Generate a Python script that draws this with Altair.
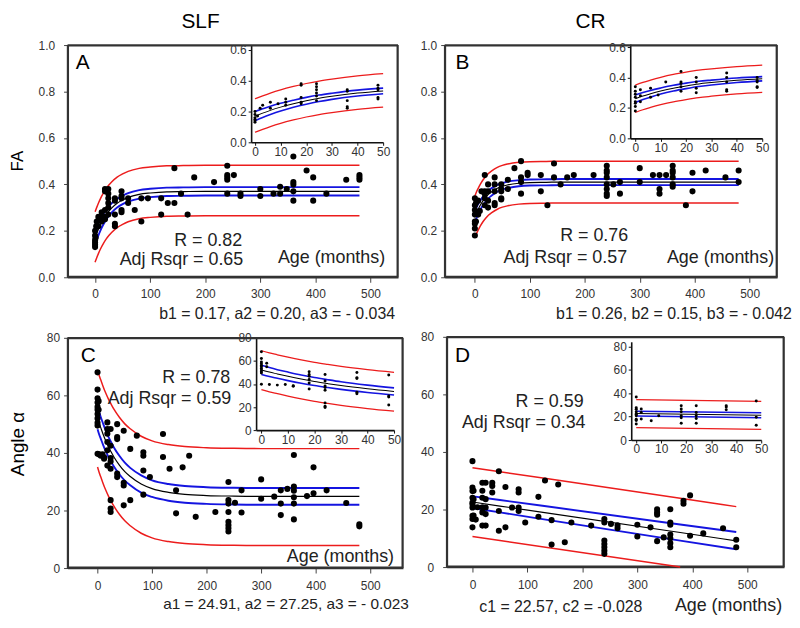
import altair as alt
import pandas as pd

FONT = "Liberation Sans"
W, H = 790, 612

# ---------------- data ----------------
CURVE_AGE = [0, 3, 6, 10, 15, 20, 25, 30, 40, 50, 60, 80, 100, 130, 160, 200, 250, 300, 400, 480]

# Panel A : SLF, FA
A_POINTS = [
    [0, 0.13], [0, 0.14], [0, 0.16], [0, 0.18], [0, 0.20], [0, 0.15],
    [1, 0.17], [2, 0.22], [3, 0.24], [6, 0.26], [6, 0.22], [9, 0.25],
    [12, 0.26], [12, 0.28], [12, 0.24],
    [18, 0.38], [18, 0.29], [18, 0.26], [18, 0.25], [18, 0.37],
    [24, 0.36], [24, 0.30], [24, 0.34], [24, 0.27], [24, 0.38], [24, 0.32],
    [36, 0.33], [36, 0.27], [36, 0.23], [36, 0.22], [36, 0.34],
    [48, 0.37], [48, 0.34], [48, 0.29], [48, 0.35], [48, 0.28],
    [60, 0.34], [60, 0.32], [72, 0.29], [84, 0.34], [84, 0.24], [96, 0.34],
    [120, 0.34], [120, 0.27], [132, 0.32], [144, 0.47], [144, 0.32],
    [156, 0.36], [168, 0.27], [180, 0.43], [216, 0.41],
    [240, 0.48], [240, 0.44], [240, 0.43], [240, 0.42], [240, 0.36],
    [252, 0.44], [264, 0.36], [264, 0.35], [300, 0.38], [300, 0.35],
    [324, 0.36], [336, 0.39], [336, 0.36], [348, 0.38],
    [360, 0.52], [360, 0.41], [360, 0.40], [360, 0.37], [360, 0.33],
    [384, 0.46], [396, 0.43], [396, 0.33], [420, 0.36], [456, 0.42],
    [480, 0.44], [480, 0.43], [480, 0.42],
]
A_FIT = [0.170, 0.189, 0.207, 0.228, 0.250, 0.269, 0.285, 0.298, 0.319, 0.333, 0.344, 0.357, 0.363, 0.368, 0.369, 0.370, 0.370, 0.370, 0.370, 0.370]
A_CI_HI = [0.200, 0.217, 0.234, 0.253, 0.273, 0.291, 0.306, 0.318, 0.338, 0.351, 0.362, 0.375, 0.381, 0.386, 0.387, 0.388, 0.388, 0.388, 0.388, 0.388]
A_CI_LO = [0.140, 0.161, 0.180, 0.203, 0.227, 0.247, 0.264, 0.278, 0.300, 0.315, 0.326, 0.339, 0.345, 0.350, 0.351, 0.352, 0.352, 0.352, 0.352, 0.352]
A_PI_HI = [0.282, 0.301, 0.319, 0.340, 0.362, 0.381, 0.397, 0.410, 0.431, 0.445, 0.456, 0.469, 0.475, 0.480, 0.481, 0.482, 0.482, 0.482, 0.482, 0.482]
A_PI_LO = [0.065, 0.084, 0.102, 0.123, 0.145, 0.164, 0.180, 0.193, 0.214, 0.228, 0.239, 0.252, 0.258, 0.263, 0.264, 0.265, 0.265, 0.265, 0.265, 0.265]

# Panel B : CR, FA
B_POINTS = [
    [0, 0.34], [0, 0.31], [0, 0.27], [0, 0.24], [0, 0.21], [0, 0.18], [0, 0.29], [0, 0.23],
    [2, 0.28], [2, 0.24], [2, 0.32], [6, 0.27], [6, 0.33], [9, 0.285], [12, 0.37],
    [18, 0.44], [18, 0.37], [18, 0.34], [18, 0.31], [18, 0.36],
    [24, 0.40], [24, 0.37], [24, 0.30], [24, 0.33],
    [36, 0.40], [36, 0.37], [36, 0.31], [36, 0.43], [36, 0.32],
    [48, 0.37], [48, 0.335], [48, 0.40], [48, 0.38], [48, 0.34],
    [60, 0.42], [60, 0.38], [72, 0.47],
    [84, 0.50], [84, 0.43], [84, 0.41], [84, 0.36], [96, 0.44], [96, 0.45],
    [120, 0.44], [120, 0.37], [132, 0.31], [144, 0.49], [144, 0.43],
    [156, 0.40], [168, 0.43], [180, 0.44], [216, 0.44],
    [240, 0.48], [240, 0.46], [240, 0.45], [240, 0.43], [240, 0.40], [240, 0.38], [240, 0.36], [240, 0.35],
    [252, 0.40], [264, 0.41], [264, 0.36], [300, 0.47], [300, 0.41], [324, 0.44],
    [336, 0.44], [336, 0.38], [336, 0.36], [348, 0.44],
    [360, 0.48], [360, 0.46], [360, 0.45], [360, 0.43], [360, 0.40], [360, 0.39],
    [384, 0.31], [396, 0.45], [396, 0.37], [420, 0.46], [456, 0.43], [480, 0.46], [480, 0.41],
]
B_FIT = [0.260, 0.278, 0.293, 0.311, 0.330, 0.345, 0.358, 0.367, 0.382, 0.392, 0.398, 0.405, 0.408, 0.409, 0.410, 0.410, 0.410, 0.410, 0.410, 0.410]
B_CI_HI = [0.285, 0.301, 0.315, 0.331, 0.349, 0.363, 0.375, 0.383, 0.397, 0.406, 0.412, 0.418, 0.421, 0.422, 0.423, 0.423, 0.423, 0.423, 0.423, 0.423]
B_CI_LO = [0.235, 0.255, 0.271, 0.291, 0.311, 0.327, 0.341, 0.351, 0.367, 0.378, 0.384, 0.392, 0.395, 0.396, 0.397, 0.397, 0.397, 0.397, 0.397, 0.397]
B_PI_HI = [0.350, 0.368, 0.383, 0.401, 0.420, 0.435, 0.448, 0.457, 0.472, 0.482, 0.488, 0.495, 0.498, 0.499, 0.500, 0.500, 0.500, 0.500, 0.500, 0.500]
B_PI_LO = [0.170, 0.188, 0.203, 0.221, 0.240, 0.255, 0.268, 0.277, 0.292, 0.302, 0.308, 0.315, 0.318, 0.319, 0.320, 0.320, 0.320, 0.320, 0.320, 0.320]

# Panel C : SLF, angle
C_POINTS = [
    [0, 68], [0, 62], [0, 59], [0, 57.5], [0, 56], [0, 55], [0, 53.5], [0, 52], [0, 50.5], [0, 49.5], [0, 39.7],
    [2, 58], [2, 55], [3, 39.5], [6, 39], [9, 39.5], [12, 38.5], [12, 38],
    [18, 50.6], [18, 48.3], [18, 46.7], [18, 43.8], [18, 40.9], [18, 35.6],
    [24, 48.3], [24, 42.5], [24, 38.2], [24, 34.5], [24, 37], [24, 23.6], [24, 20.7], [24, 19.5],
    [36, 50], [36, 45.5], [36, 44.8], [36, 31.6], [36, 32.8],
    [48, 47.7], [48, 28.7], [48, 21.8], [48, 29.6],
    [60, 41.4], [60, 23.6], [72, 46], [84, 40.2], [84, 39], [84, 33.9], [84, 25.5], [96, 31.6],
    [120, 46.6], [120, 38.6], [132, 34.5], [144, 27], [144, 19], [156, 35], [168, 39], [180, 17.8], [216, 19.5],
    [240, 29.9], [240, 23.6], [240, 22.4], [240, 19.5], [240, 16.1], [240, 14.9], [240, 13.8], [240, 12.7],
    [252, 22.7], [264, 27], [264, 19.3], [300, 30.8], [300, 24.1], [324, 24.8],
    [336, 27], [336, 22.4], [336, 18.4], [348, 27.5],
    [360, 39.3], [360, 28.3], [360, 26.9], [360, 24.6], [360, 22.4], [360, 16.9],
    [384, 25], [396, 35], [396, 26], [420, 27], [456, 22.6], [480, 15.2], [480, 14.5],
]
C_FIT = [52.2, 50.3, 48.7, 46.6, 44.2, 42.1, 40.3, 38.6, 35.8, 33.5, 31.8, 29.2, 27.6, 26.3, 25.6, 25.2, 25.0, 24.9, 24.9, 24.9]
C_CI_HI = [56.2, 54.2, 52.4, 50.3, 47.8, 45.6, 43.7, 41.9, 39.0, 36.6, 34.8, 32.2, 30.5, 29.2, 28.5, 28.1, 27.9, 27.8, 27.8, 27.8]
C_CI_LO = [48.2, 46.4, 44.9, 42.9, 40.6, 38.6, 36.9, 35.3, 32.6, 30.4, 28.8, 26.2, 24.7, 23.4, 22.7, 22.3, 22.1, 22.0, 22.0, 22.0]
C_PI_HI = [68.8, 66.9, 65.3, 63.2, 60.8, 58.7, 56.9, 55.2, 52.4, 50.1, 48.4, 45.8, 44.2, 42.9, 42.2, 41.8, 41.6, 41.5, 41.5, 41.5]
C_PI_LO = [35.1, 33.2, 31.6, 29.5, 27.1, 25.0, 23.2, 21.5, 18.7, 16.4, 14.7, 12.1, 10.5, 9.2, 8.5, 8.1, 7.9, 7.8, 7.8, 7.8]

# Panel D : CR, angle (linear fit)
D_POINTS = [
    [0, 36.8], [0, 27.6], [0, 26.4], [0, 24.1], [0, 22.4], [0, 21.8], [0, 20.7], [0, 17.8], [0, 16.7], [0, 13.8],
    [2, 26.5], [2, 23.6], [2, 17.9], [6, 16.5], [9, 20.8],
    [18, 29.3], [18, 26.5], [18, 24.1], [18, 20.8], [18, 19], [18, 14.4],
    [24, 29.3], [24, 23.6], [24, 20.7], [24, 18.4], [24, 14.4],
    [36, 29.3], [36, 28.2], [36, 25.9], [48, 33.3], [48, 19.5], [48, 12.6],
    [60, 27.8], [60, 13.8], [72, 20.7], [84, 27], [84, 25.9], [84, 20.7], [84, 19.5], [96, 15.5],
    [120, 24.4], [120, 17.5], [132, 30.1], [144, 16.3], [144, 7.8], [156, 28.7], [168, 8.6], [180, 15.5], [216, 14.4],
    [240, 16.7], [240, 15.5], [240, 9.2], [240, 8], [240, 6.9], [240, 5.7], [240, 4.6],
    [252, 15], [264, 14.5], [264, 13.5], [300, 14.7], [300, 10.6], [324, 13.8],
    [336, 20.1], [336, 19], [336, 18.2], [336, 9], [348, 10.3],
    [360, 20.1], [360, 15.5], [360, 14.7], [360, 11.3], [360, 10], [360, 8.3], [360, 6.9],
    [384, 22], [384, 23], [396, 24.9], [396, 10.9], [420, 11.7], [456, 13.5], [480, 9.5], [480, 6.9],
]
D_CURVE_AGE = [0, 50, 378, 480]
D_FIT = [22.6, 21.2, 12.0, 9.1]
D_CI_HI = [24.6, 23.3, 14.8, 12.2]
D_CI_LO = [20.5, 19.0, 9.2, 6.2]
D_PI_HI = [34.5, 33.1, 23.9, 21.0]
D_PI_LO = [10.6, 9.2, 0.0, None]

AGE_TICKS = [0, 100, 200, 300, 400, 500]
INSET_AGE_TICKS = [0, 10, 20, 30, 40, 50]
FA_TICKS = [0, 0.2, 0.4, 0.6, 0.8, 1.0]
FA_INSET_TICKS = [0, 0.2, 0.4, 0.6]
ANG_TICKS = [0, 20, 40, 60, 80]

RED, BLUE, BLACK = "#ec1c1c", "#1414e0", "#000000"
FRAME = "#333333"


def curve_df(age, fit, ci_hi, ci_lo, pi_hi, pi_lo):
    rows = []
    for name, vals in [("fit", fit), ("ci_hi", ci_hi), ("ci_lo", ci_lo), ("pi_hi", pi_hi), ("pi_lo", pi_lo)]:
        for a, v in zip(age, vals):
            if v is not None:
                rows.append({"t": a, "v": v, "s": name})
    return pd.DataFrame(rows)


def make_axis(orient, offset, values, fmt, pad, tick, size, dcolor, dwidth, tcolor="#444", lcolor="#333"):
    return alt.Axis(orient=orient, offset=offset, values=values, format=fmt, title=None, grid=False,
                    tickSize=tick, tickColor=tcolor, tickWidth=1, labelColor=lcolor, labelFont=FONT,
                    labelFontSize=size, labelPadding=pad, labelFlush=False, labelOverlap=False,
                    domain=True, domainColor=dcolor, domainWidth=dwidth)


def panel(cfg):
    pts = pd.DataFrame(cfg["points"], columns=["t", "v"])
    cur = curve_df(cfg["age"], *cfg["curves"])

    xsc = alt.Scale(domain=cfg["xdom"], range=cfg["xrng"], nice=False, zero=False)
    ysc = alt.Scale(domain=cfg["ydom"], range=cfg["yrng"], nice=False, zero=False)
    xm = alt.X("t:Q", scale=xsc,
               axis=make_axis("bottom", cfg["yrng"][0] - H, AGE_TICKS, "d", cfg["xpad"], 5, 12, FRAME, 1.5))
    ym = alt.Y("v:Q", scale=ysc,
               axis=make_axis("left", -cfg["xrng"][0], cfg["yticks"], cfg["yfmt"], cfg["ypad"], 4, 12, FRAME, 1.5))

    def lines(df, xe, ye, w_scale):
        red = alt.Chart(df[df.s.isin(["pi_hi", "pi_lo"])]).mark_line(
            color=RED, strokeWidth=1.5 * w_scale, interpolate="monotone").encode(x=xe, y=ye, detail="s:N")
        blue = alt.Chart(df[df.s.isin(["ci_hi", "ci_lo"])]).mark_line(
            color=BLUE, strokeWidth=1.9 * w_scale, interpolate="monotone").encode(x=xe, y=ye, detail="s:N")
        blk = alt.Chart(df[df.s == "fit"]).mark_line(
            color=BLACK, strokeWidth=1.2 * w_scale, interpolate="monotone").encode(x=xe, y=ye)
        return [red, blue, blk]

    # ---- panel frame, taken from the corners of the plotted domain ----
    x0, x1 = cfg["xdom"]
    y0, y1 = cfg["ydom"]
    # thickness of the frame (1.5 px) expressed in data units of each scale
    tx = 1.5 * (x1 - x0) / abs(cfg["xrng"][1] - cfg["xrng"][0])
    ty = 1.5 * (y1 - y0) / abs(cfg["yrng"][1] - cfg["yrng"][0])
    strips = pd.DataFrame({
        "t": [x0, x0, x0, x1 - tx], "t2": [x1, x1, x0 + tx, x1],
        "v": [y0, y1 - ty, y0, y0], "v2": [y0 + ty, y1, y1, y1],
    })
    frame_fill = alt.Chart(strips).mark_rect(color=FRAME, opacity=1).encode(
        x=xm, x2="t2:Q", y=ym, y2="v2:Q")
    hrules = pd.DataFrame({"t": [x0, x0], "t2": [x1, x1], "v": [y0, y1]})
    vrules = pd.DataFrame({"t": [x0, x1], "v": [y0, y0], "v2": [y1, y1]})
    frame_h = alt.Chart(hrules).mark_rule(color=FRAME, strokeWidth=1.5).encode(x=xm, x2="t2:Q", y=ym)
    frame_v = alt.Chart(vrules).mark_rule(color=FRAME, strokeWidth=1.5).encode(x=xm, y=ym, y2="v2:Q")

    main_layers = [frame_fill, frame_h, frame_v] + lines(cur, xm, ym, 1.0)
    main_layers.append(alt.Chart(pts).mark_circle(size=38, color="black", opacity=1).encode(x=xm, y=ym))
    for label, px, py, size, align, angle, color in cfg["texts"]:
        kw = dict(text=label, font=FONT, fontSize=size, align=align, baseline="middle", color=color)
        if angle:
            kw["angle"] = angle
        main_layers.append(alt.Chart(pd.DataFrame({"t": [px], "v": [py]})).mark_text(**kw).encode(x=xm, y=ym))
    main = alt.layer(*main_layers)

    xi = alt.X("t:Q", scale=alt.Scale(domain=cfg["ixdom"], range=cfg["ixrng"], nice=False, zero=False),
               axis=make_axis("bottom", cfg["iyrng"][0] - H, INSET_AGE_TICKS, "d", 1, 3, 12, "#111", 1.6,
                              tcolor="#111"))
    yi = alt.Y("v:Q", scale=alt.Scale(domain=cfg["iydom"], range=cfg["iyrng"], nice=False, zero=False),
               axis=make_axis("left", -cfg["ixrng"][0], cfg["iyticks"], cfg["yfmt"], 2, 3, 12, "#111", 1.6,
                              tcolor="#111"))
    icur = cur[cur.t <= 50]
    ipts = pts[pts.t <= 50]
    inset_layers = lines(icur, xi, yi, 0.85)
    inset_layers.append(alt.Chart(ipts).mark_circle(size=9, color="black", opacity=1).encode(x=xi, y=yi))
    inset = alt.layer(*inset_layers)
    return [main, inset]


TXT = "#222"
panels = [
    dict(points=A_POINTS, age=CURVE_AGE, curves=(A_FIT, A_CI_HI, A_CI_LO, A_PI_HI, A_PI_LO),
         xdom=[-50, 550], xrng=[60, 393], ydom=[0, 1], yrng=[269, 35],
         xpad=6, ypad=9, yticks=FA_TICKS, yfmt=".1f",
         ixdom=[-1.5, 50], ixrng=[245, 378], iydom=[0, 0.63], iyrng=[133, 35], iyticks=FA_INSET_TICKS,
         texts=[("SLF", 191.4, 1.098, 21, "center", 0, "black"),
                ("FA", -140.0, 0.5, 17, "center", 270, "black"),
                ("A", -22.4, 0.923, 21, "center", 0, "black"),
                ("R = 0.82", 267, 0.158, 18, "right", 0, TXT),
                ("Adj Rsqr = 0.65", 269, 0.073, 18, "right", 0, TXT),
                ("Age (months)", 526.6, 0.081, 18, "right", 0, TXT),
                ("b1 = 0.17, a2 = 0.20, a3 = - 0.034", 544.6, -0.158, 16, "right", 0, TXT)]),
    dict(points=B_POINTS, age=CURVE_AGE, curves=(B_FIT, B_CI_HI, B_CI_LO, B_PI_HI, B_PI_LO),
         xdom=[-55, 550], xrng=[440, 775], ydom=[0, 1], yrng=[269, 35],
         xpad=6, ypad=4, yticks=FA_TICKS, yfmt=".1f",
         ixdom=[-2, 50], ixrng=[627, 760], iydom=[0, 0.62], iyrng=[129, 34], iyticks=FA_INSET_TICKS,
         texts=[("CR", 210.5, 1.098, 21, "center", 0, "black"),
                ("B", -22.5, 0.923, 21, "center", 0, "black"),
                ("R = 0.76", 279, 0.179, 18, "right", 0, TXT),
                ("Adj Rsqr = 0.57", 277, 0.081, 18, "right", 0, TXT),
                ("Age (months)", 544.6, 0.081, 18, "right", 0, TXT),
                ("b1 = 0.26, b2 = 0.15, b3 = - 0.042", 577, -0.158, 16, "right", 0, TXT)]),
    dict(points=C_POINTS, age=CURVE_AGE, curves=(C_FIT, C_CI_HI, C_CI_LO, C_PI_HI, C_PI_LO),
         xdom=[-55, 560], xrng=[60, 398], ydom=[0, 80], yrng=[562, 330],
         xpad=8, ypad=4, yticks=ANG_TICKS, yfmt="d",
         ixdom=[-2, 50], ixrng=[250, 389], iydom=[0, 80], iyrng=[423, 330], iyticks=ANG_TICKS,
         texts=[("C", -16.8, 73.6, 21, "center", 0, "black"),
                ("Angle α", -145.0, 43.1, 19, "center", 270, "black"),
                ("R = 0.78", 243.4, 66.1, 18, "right", 0, TXT),
                ("Adj Rsqr = 0.59", 245.2, 58.9, 18, "right", 0, TXT),
                ("Age (months)", 543.6, 4.0, 18, "right", 0, TXT),
                ("a1 = 24.91, a2 = 27.25, a3 = - 0.023", 570.9, -12.6, 15.5, "right", 0, TXT)]),
    dict(points=D_POINTS, age=D_CURVE_AGE, curves=(D_FIT, D_CI_HI, D_CI_LO, D_PI_HI, D_PI_LO),
         xdom=[-47, 567], xrng=[442, 782], ydom=[0, 80], yrng=[561, 329],
         xpad=8, ypad=9, yticks=ANG_TICKS, yfmt="d",
         ixdom=[-2, 50], ixrng=[628, 759], iydom=[0, 84], iyrng=[433, 334], iyticks=ANG_TICKS,
         texts=[("D", -18.1, 73.2, 21, "center", 0, "black"),
                ("R = 0.59", 202.2, 57.4, 18, "right", 0, TXT),
                ("Adj Rsqr = 0.34", 205.8, 50.2, 18, "right", 0, TXT),
                ("c1 = 22.57, c2 = -0.028", 160.7, -13.8, 16, "center", 0, TXT),
                ("Age (months)", 563.4, -13.5, 18, "right", 0, TXT)]),
]

children = []
for cfg in panels:
    children.extend(panel(cfg))

chart = alt.layer(*children).resolve_scale(x="independent", y="independent").properties(
    width=W, height=H, autosize=alt.AutoSizeParams(type="none"), padding=0
).configure_view(stroke="transparent")

chart.save("out.html", embed_options={"renderer": "svg", "actions": False})
